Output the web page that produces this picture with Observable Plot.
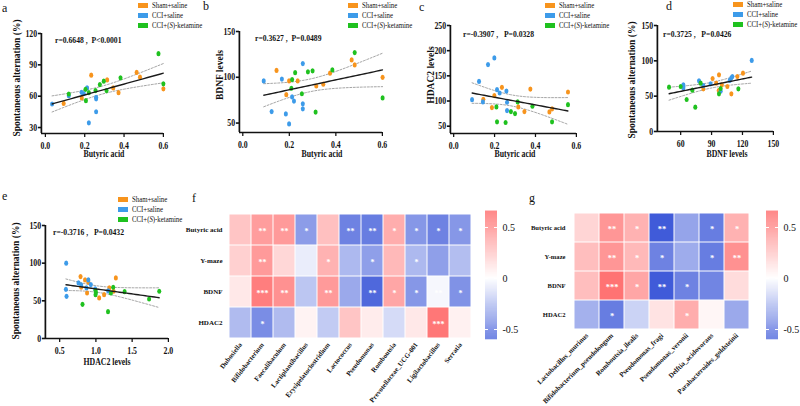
<!DOCTYPE html>
<html><head><meta charset="utf-8">
<script src="https://cdn.jsdelivr.net/npm/d3@7"></script>
<script src="https://cdn.jsdelivr.net/npm/@observablehq/plot@0.6"></script>
<style>
body{margin:0;background:#fff;}
#root{position:relative;width:800px;height:406px;overflow:hidden;background:#fff;font-family:"Liberation Serif","Times New Roman",serif;color:#111;}
#root svg{max-width:none !important;background:transparent !important;}
.panel{position:absolute;overflow:visible;}
.t{position:absolute;white-space:nowrap;line-height:1;}
.sw{position:absolute;width:10px;height:5px;}
</style></head><body><div id="root"></div><script>
// ---------- data ----------
const groups = ["Sham+saline", "CCI+saline", "CCI+(<i>S</i>)-ketamine"];
const groupColors = ["#f7941d", "#3d9be9", "#1fc11f"];

// a: Butyric acid vs Spontaneous alternation (%)
const aSham = [[0.093,53.1],[0.185,58.3],[0.233,80.1],[0.314,75.6],[0.345,67.9],[0.372,63.4],[0.464,82.7],[0.481,78.2],[0.600,67.0]];
const aCCI  = [[0.034,52.5],[0.119,60.5],[0.184,63.7],[0.195,62.5],[0.212,67.9],[0.221,34.5],[0.258,59.0],[0.258,57.5],[0.258,45.1]];
const aKet  = [[0.119,62.1],[0.204,66.6],[0.206,55.7],[0.221,63.4],[0.255,65.4],[0.277,71.1],[0.297,74.4],[0.311,65.4],[0.382,77.6],[0.575,100.7],[0.600,71.8]];
// b: Butyric acid vs BDNF levels
const bSham = [[0.145,107.5],[0.187,81],[0.199,96],[0.236,96],[0.316,90.5],[0.346,92.5],[0.375,104.5],[0.468,119],[0.481,113.5],[0.601,100]];
const bCCI  = [[0.090,96],[0.124,62.5],[0.168,98],[0.185,60],[0.199,49],[0.212,78.5],[0.220,74],[0.258,115],[0.258,71],[0.258,65.5]];
const bKet  = [[0.209,88],[0.212,97.5],[0.225,105],[0.254,82],[0.280,106],[0.300,107],[0.313,62],[0.385,108],[0.481,127],[0.601,77.5]];
// c: Butyric acid vs HDAC2 levels
const cSham = [[0.145,103.4],[0.187,86.9],[0.199,110.6],[0.236,127.1],[0.316,88.2],[0.346,79],[0.375,123.8],[0.468,78.3],[0.481,84.2],[0.559,117.9]];
const cCCI  = [[0.090,102.7],[0.124,138.9],[0.143,98.1],[0.168,172.4],[0.199,185.5],[0.212,122.5],[0.225,115.9],[0.258,119.8],[0.261,97.5],[0.261,81]];
const cKet  = [[0.209,88.2],[0.212,58.6],[0.254,57.3],[0.280,79],[0.300,75],[0.313,98.1],[0.385,89.6],[0.481,58.6],[0.559,92.8]];
// d: BDNF levels vs Spontaneous alternation (%)
const dSham = [[82,60.4],[91,75],[94.5,68.4],[96.9,58],[97.2,80.2],[100,66],[105.3,63.7],[109.2,53.3],[115,77.8],[120.5,82.5]];
const dCCI  = [[62.6,66],[62.6,63.7],[62.6,61.5],[77.8,71.7],[82,65],[89,67.5],[98.8,57],[107.6,72.2],[109.2,75.9],[110.2,77.8],[129,100.5]];
const dKet  = [[48.7,62.7],[60,63.7],[65.8,45.3],[71.3,58.5],[74.2,34.4],[79.4,68.4],[97.2,53.3],[98.8,60.8],[116,60.4]];
// e: HDAC2 levels vs Spontaneous alternation (%)
const eSham = [[0.788,82.2],[0.85,77.8],[0.896,74.7],[0.797,68],[0.878,60.4],[1.045,53.8],[1.113,58.2],[1.185,67.1],[1.275,80.4],[1.243,62.7]];
const eCCI  = [[0.59,100],[0.586,65.3],[0.595,56],[0.76,73.8],[0.797,71.1],[0.896,77.8],[0.93,71.6],[0.87,67.1],[0.99,65.8],[1.17,63.1]];
const eKet  = [[0.815,45.3],[0.995,63.6],[1.0,60.9],[0.995,58.2],[1.167,35.6],[1.207,60.4],[1.239,68],[1.396,62.2],[1.734,52.4],[1.874,62.7]];

const statA = "r=0.6648 ,&nbsp; P&lt;0.0001";
const statB = "r=0.3627 ,&nbsp; P=0.0489";
const statC = "r=-0.3907 ,&nbsp;&nbsp; P=0.0328";
const statD = "r=0.3725 ,&nbsp;&nbsp; P=0.0426";
const statE = "r=-0.3716 ,&nbsp;&nbsp; P=0.0432";

// heatmaps
const hmRows = ["Butyric acid", "Y-maze", "BDNF", "HDAC2"];
const fGenera = ["Dubosiella","Bifidobacterium","Faecalibaculum","Lactiplantibacillus","Erysipelatoclostridium","Lactococcus","Pseudomonas","Romboutsia","Prevotellaceae_UCG-001","Ligilactobacillus","Serratia"];
const fR = [
  [0.25, 0.42, 0.43, -0.38, 0.27, -0.48, -0.50, 0.35, -0.40, -0.48, -0.40],
  [0.20, 0.43, 0.17, -0.07, 0.33, -0.27, -0.37, 0.30, -0.27, -0.37, -0.25],
  [0.10, 0.55, 0.47, -0.22, 0.43, -0.33, -0.58, 0.38, -0.40, -0.03, -0.42],
  [-0.26, -0.44, -0.26, 0.05, -0.20, 0.25, 0.08, -0.14, 0.10, 0.58, 0.06]
];
const fSig = [
  ["", "**", "**", "*", "", "**", "**", "*", "*", "*", "*"],
  ["", "**", "", "", "*", "", "*", "", "*", "", ""],
  ["", "***", "**", "", "**", "", "**", "*", "*", "**", "*"],
  ["", "*", "", "", "", "", "", "", "", "***", ""]
];
const gSpecies = ["Lactobacillus_murinus","Bifidobacterium_pseudolongum","Romboutsia_ilealis","Pseudomonas_fragi","Pseudomonas_veronii","Delftia_acidovorans","Parabacteroides_goldsteinii"];
const gR = [
  [0.18, 0.45, 0.33, -0.63, -0.35, -0.50, 0.33],
  [0.28, 0.45, 0.30, -0.48, -0.32, -0.50, 0.47],
  [0.28, 0.60, 0.38, -0.63, -0.48, -0.47, 0.15],
  [-0.30, -0.50, -0.17, 0.12, 0.35, 0.04, -0.33]
];
const gSig = [
  ["", "**", "*", "**", "", "*", "*"],
  ["", "**", "*", "*", "", "*", "**"],
  ["", "***", "*", "**", "*", "", ""],
  ["", "*", "", "", "*", "", ""]
];
const cbTicks = [-0.5, 0, 0.5];

// ---------- helpers ----------
const root = document.getElementById("root");
const S = 0.78;   // horizontal compression of the scatter panels
function panelDiv(x, y, w, h) {
  const d = document.createElement("div");
  d.className = "panel";
  d.style.cssText = `left:${x}px;top:${y}px;width:${w}px;height:${h}px`;
  root.appendChild(d);
  return d;
}
function place(parent, html, x, y, o = {}) {
  const d = document.createElement("div");
  d.className = "t";
  d.innerHTML = html;
  d.style.left = x + "px"; d.style.top = y + "px";
  d.style.fontSize = (o.size || 10) + "px";
  d.style.fontWeight = o.bold ? "bold" : "normal";
  const sx = o.sx || 1;
  if (o.rotate) {
    d.style.transformOrigin = "50% 50%";
    d.style.transform = `translate(-50%,-50%) rotate(${o.rotate}deg)`;
  } else if (o.anchor === "middle") {
    d.style.transformOrigin = "50% 50%";
    d.style.transform = `translate(-50%,-50%) scaleX(${sx})`;
  } else {
    d.style.transformOrigin = "0 50%";
    d.style.transform = `translate(0,-50%) scaleX(${sx})`;
  }
  parent.appendChild(d);
  return d;
}
function attach(parent, svg, s) {
  svg.style.position = "absolute"; svg.style.left = "0"; svg.style.top = "0";
  svg.style.transformOrigin = "0 0"; svg.style.transform = `scaleX(${s})`;
  parent.appendChild(svg);
}
function regress(pts) {
  const n = pts.length, mx = d3.mean(pts, p => p[0]), my = d3.mean(pts, p => p[1]);
  let sxx = 0, sxy = 0;
  for (const [x, y] of pts) { sxx += (x - mx) ** 2; sxy += (x - mx) * (y - my); }
  const b = sxy / sxx, a = my - b * mx;
  let sse = 0; for (const [x, y] of pts) sse += (y - a - b * x) ** 2;
  const s = Math.sqrt(sse / (n - 2)), t = 2.04;
  const [x0, x1] = d3.extent(pts, p => p[0]);
  return d3.range(41).map(i => {
    const x = x0 + (x1 - x0) * i / 40, yh = a + b * x;
    const h = t * s * Math.sqrt(1 / n + (x - mx) ** 2 / sxx);
    return {x, y: yh, lo: yh - h, hi: yh + h};
  });
}
const svgStyle = "font-family:'Liberation Serif','Times New Roman',serif;font-size:10px;font-weight:bold;color:#111;background:transparent;overflow:visible;";

function scatterPanel(c) {
  const div = panelDiv(c.left, c.top, c.W, c.H);
  const band = regress(c.series.flat());
  const svg = Plot.plot({
    width: c.W / S, height: c.H,
    marginLeft: c.ml / S, marginRight: c.mr / S, marginTop: c.mt, marginBottom: c.mb,
    style: svgStyle,
    x: {domain: c.xd}, y: {domain: c.yd},
    marks: [
      Plot.line(band, {x: "x", y: "lo", stroke: "#8e8e8e", strokeWidth: 0.9, strokeDasharray: "2.5,2"}),
      Plot.line(band, {x: "x", y: "hi", stroke: "#8e8e8e", strokeWidth: 0.9, strokeDasharray: "2.5,2"}),
      ...c.series.map((s, i) => Plot.dot(s, {x: d => d[0], y: d => d[1], r: 2.6, fill: groupColors[i]})),
      Plot.line(band, {x: "x", y: "y", stroke: "#1a1a1a", strokeWidth: 1.4}),
      Plot.ruleX([c.xd[0]], {strokeWidth: 2.2, stroke: "#111"}),
      Plot.ruleY([c.yd[0]], {strokeWidth: 1.7, stroke: "#111"}),
      Plot.axisX({ticks: c.xt, tickFormat: d3.format(c.xf), tickSize: 4, tickPadding: 4, strokeWidth: 1.6, label: null}),
      Plot.axisY({ticks: c.yt, tickSize: 4, tickPadding: 1.5, strokeWidth: 1.6, label: null})
    ]
  });
  attach(div, svg, S);
  place(div, c.letter[0], c.letter[1], c.letter[2], {size: 12});
  groups.forEach((g, i) => {
    const sw = document.createElement("div");
    sw.className = "sw";
    sw.style.left = c.leg[0] + "px"; sw.style.top = (c.leg[1] + 10 * i - 2.5) + "px";
    sw.style.background = groupColors[i];
    div.appendChild(sw);
    place(div, g, c.leg[0] + 14, c.leg[1] + 10 * i, {size: 8.5, sx: 0.8});
  });
  place(div, c.stat, c.ann[0], c.ann[1], {size: 9, bold: true, sx: 0.85});
  place(div, c.xtitle[0], c.xtitle[1], c.xtitle[2], {size: 9.5, bold: true, anchor: "middle", sx: 0.82});
  place(div, c.ytitle[0], c.ytitle[1], c.ytitle[2], {size: 9.5, bold: true, rotate: -90});
}

scatterPanel({left: 0, top: 0, W: 200, H: 162, ml: 41, mr: 37, mt: 33, mb: 29,
  xd: [-0.0203, 0.6], yd: [24.3, 120], xt: [0, 0.2, 0.4, 0.6], xf: ".1f", yt: [30, 60, 90, 120],
  series: [aSham, aCCI, aKet], stat: statA,
  letter: ["a", 2, 8], leg: [138, 5], ann: [55, 40],
  xtitle: ["Butyric acid", 104, 155], ytitle: ["Spontaneous alternation (%)", 18, 78]});
scatterPanel({left: 200, top: 0, W: 200, H: 162, ml: 39, mr: 18, mt: 31, mb: 30,
  xd: [-0.0146, 0.6], yd: [39.7, 150], xt: [0, 0.2, 0.4, 0.6], xf: ".1f", yt: [50, 100, 150],
  series: [bSham, bCCI, bKet], stat: statB,
  letter: ["b", 3, 6], leg: [148, 5], ann: [55, 38],
  xtitle: ["Butyric acid", 122, 155], ytitle: ["BDNF levels", 21, 75]});
scatterPanel({left: 400, top: 0, W: 200, H: 162, ml: 50, mr: 24, mt: 25, mb: 29,
  xd: [-0.016, 0.6], yd: [35.5, 250], xt: [0, 0.2, 0.4, 0.6], xf: ".1f", yt: [50, 100, 150, 200, 250],
  series: [cSham, cCCI, cKet], stat: statC,
  letter: ["c", 19, 7], leg: [145, 5], ann: [63, 34],
  xtitle: ["Butyric acid", 115, 155], ytitle: ["HDAC2 levels", 32, 75]});
scatterPanel({left: 600, top: 0, W: 200, H: 162, ml: 57, mr: 27, mt: 25, mb: 31,
  xd: [37.4, 150], yd: [0, 150], xt: [60, 90, 120, 150], xf: "d", yt: [0, 50, 100, 150],
  series: [dSham, dCCI, dKet], stat: statD,
  letter: ["d", 66, 6], leg: [133, 4], ann: [63, 34],
  xtitle: ["BDNF levels", 127, 155], ytitle: ["Spontaneous alternation (%)", 33, 80]});
scatterPanel({left: 0, top: 162, W: 200, H: 244, ml: 45, mr: 32, mt: 63, mb: 68,
  xd: [0.303, 2.0], yd: [0, 150], xt: [0.5, 1.0, 1.5, 2.0], xf: ".1f", yt: [0, 50, 100, 150],
  series: [eSham, eCCI, eKet], stat: statE,
  letter: ["e", 2, 34], leg: [118, 37], ann: [53, 70],
  xtitle: ["HDAC2 levels", 107, 201], ytitle: ["Spontaneous alternation (%)", 17, 119]});

// ---------- heatmaps ----------
const colorOpts = {type: "linear", domain: [-0.65, 0, 0.65], range: ["#3a56d8", "#ffffff", "#ff6767"], interpolate: "rgb", clamp: true};
function table(cols, R, Sg) {
  return hmRows.flatMap((r, i) => cols.map((c, j) => ({row: r, col: c, v: R[i][j], s: Sg[i][j]})));
}
function heatmap(h) {
  const div = panelDiv(h.left, h.top, h.W, h.H);
  const svg = Plot.plot({
    width: h.W, height: h.H,
    marginLeft: h.ml, marginRight: h.mr, marginTop: h.mt, marginBottom: h.mb,
    style: svgStyle,
    x: {domain: h.cols, padding: 0}, y: {domain: hmRows, padding: 0},
    color: colorOpts,
    marks: [
      Plot.cell(h.data, {x: "col", y: "row", fill: "v", inset: 0.5}),
      Plot.text(h.data, {x: "col", y: "row", text: "s", fill: "white", fontSize: h.star, dy: 1}),
      Plot.axisY({tickSize: 0, tickPadding: h.rowPad, fontSize: h.rowFont, label: null}),
      Plot.axisX({tickSize: 0, tickPadding: 4, tickRotate: h.rot, fontSize: h.colFont, label: null})
    ]
  });
  attach(div, svg, 1);
}
heatmap({left: 150, top: 190, W: 330, H: 216, ml: 77, mr: 8, mt: 22, mb: 67, rot: -52,
  cols: fGenera, data: table(fGenera, fR, fSig), rowFont: 7, rowPad: 5, colFont: 6.9, star: 8});
heatmap({left: 480, top: 190, W: 320, H: 216, ml: 91, mr: 48, mt: 21, mb: 76, rot: -45,
  cols: gSpecies, data: table(gSpecies, gR, gSig), rowFont: 6.6, rowPad: 6, colFont: 7, star: 8.5});

function colorbar(left) {
  const div = panelDiv(left, 200, 45, 150);
  const stops = d3.range(-0.6, 0.66, 0.005);
  const svg = Plot.plot({
    width: 45, height: 150, marginLeft: 5, marginRight: 28, marginTop: 11, marginBottom: 12,
    style: "font-family:'Liberation Serif',serif;font-size:10px;background:transparent;overflow:visible;",
    x: {domain: [0, 1], axis: null}, y: {domain: [-0.588, 0.657]},
    color: colorOpts,
    marks: [
      Plot.rect(stops, {x1: 0, x2: 1, y1: d => d, y2: d => d + 0.0055, fill: d => d}),
      Plot.tickY(cbTicks, {y: d => d, stroke: "white", strokeWidth: 1, strokeDasharray: "3,6,3"}),
      Plot.axisY({anchor: "right", ticks: cbTicks, tickSize: 0, tickPadding: 5, tickFormat: d => String(d), label: null})
    ]
  });
  attach(div, svg, 1);
}
colorbar(480);
colorbar(761);

place(root, "f", 192, 198, {size: 12});
place(root, "g", 529, 198, {size: 12});
</script></body></html>
